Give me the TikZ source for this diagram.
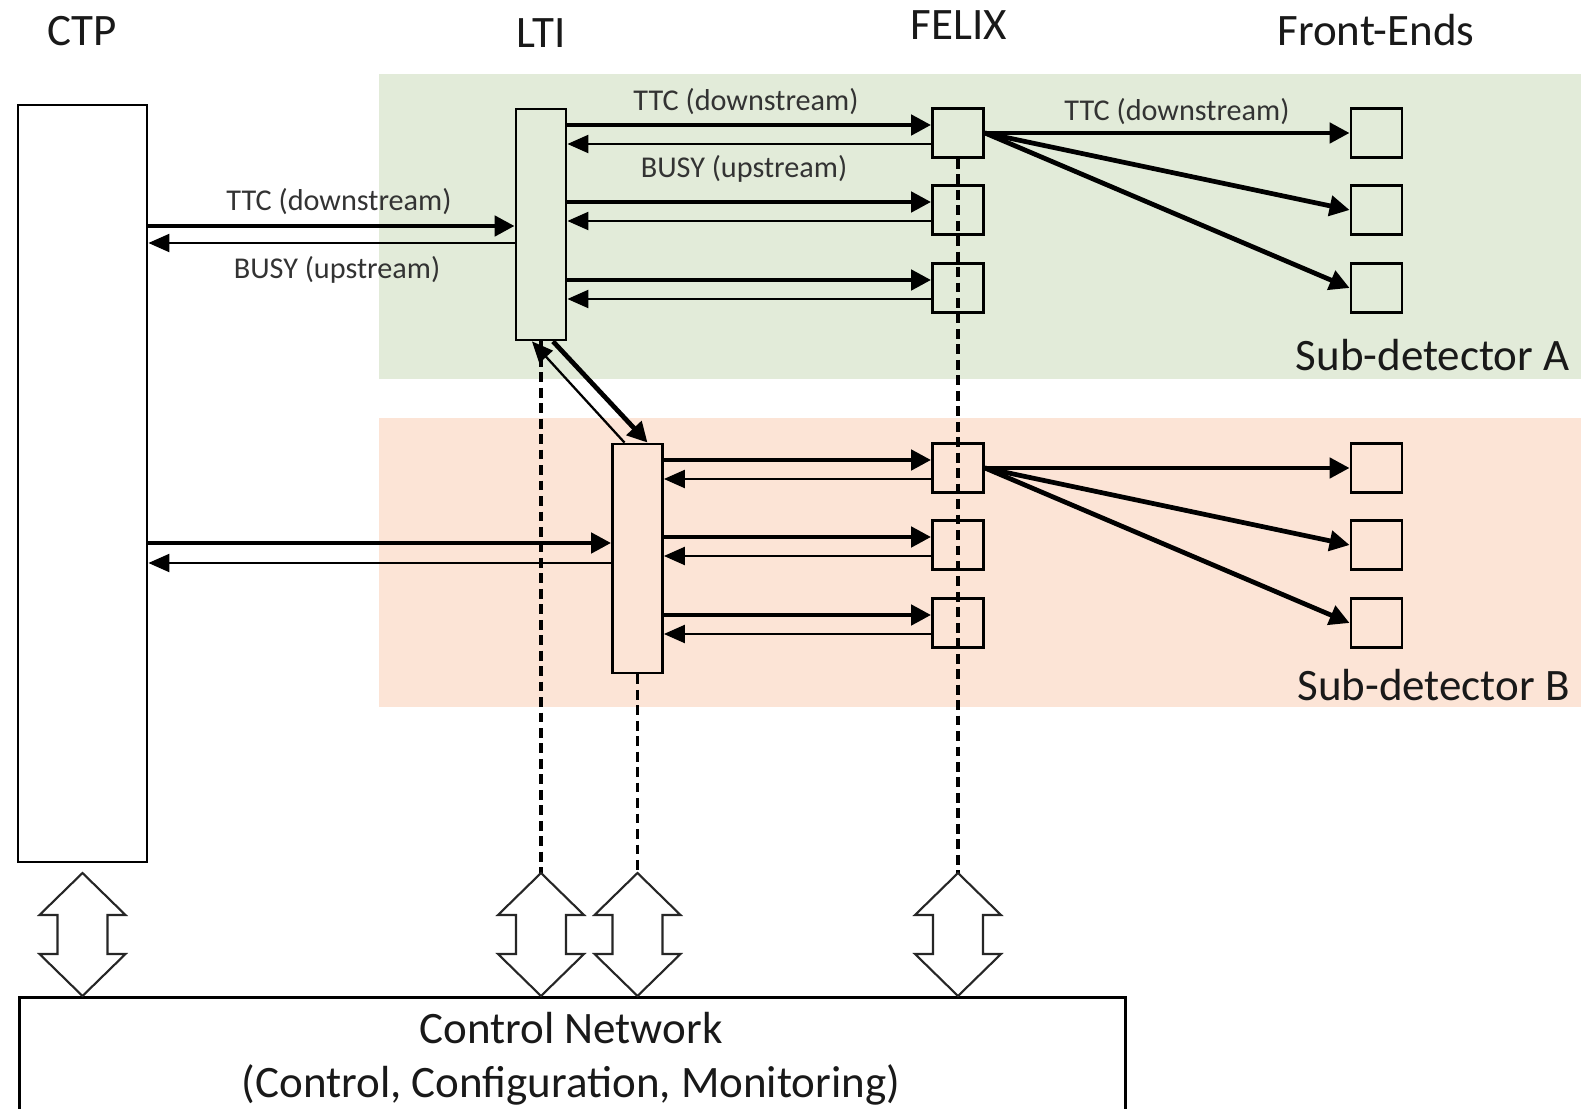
\documentclass[tikz,border=0pt]{standalone}
\usepackage{fontspec}
\setmainfont{Carlito}
\usetikzlibrary{arrows.meta,calc}
\definecolor{subAbg}{RGB}{226,235,217}
\definecolor{subBbg}{RGB}{252,228,214}

\begin{document}
\begin{tikzpicture}[y=-1cm,
  box/.style={draw, line width=0.8pt, inner sep=0pt},
  sbox/.style={box, minimum width=0.51cm, minimum height=0.49cm},
  dn/.style={-{Triangle[length=2mm,width=2mm]}, line width=1.35pt},
  up/.style={-{Triangle[length=2.1mm,width=1.8mm]}, line width=0.65pt},
  ctl/.style={line width=0.95pt, dash pattern=on 2.8pt off 1.6pt},
  blk/.style={draw=black!85, fill=white, line width=0.6pt, line join=miter},
  lbl/.style={font=\fontsize{8.6}{10}\selectfont, text=black!80},
  big/.style={font=\fontsize{12.8}{15.4}\selectfont, text=black!90}]
  \useasboundingbox (0,0) rectangle (15.81,11.09);

  % 两个子探测器区域
  \fill[subAbg] (3.79,0.74) rectangle (15.81,3.79);
  \fill[subBbg] (3.79,4.18) rectangle (15.81,7.07);

  % 列标题
  \node[big] (tCTP) at (0.82,0.31) {CTP};
  \node[big] (tLTI) at (5.41,0.33) {LTI};
  \node[big] (tFX) at (9.59,0.25) {FELIX};
  \node[big] (tFE) at (13.76,0.30) {Front-Ends};

  % 方框
  \node[box, minimum width=1.29cm, minimum height=7.57cm] (ctp) at (0.825,4.835) {};
  \node[box, minimum width=0.50cm, minimum height=2.31cm] (ltiA) at (5.41,2.245) {};
  \node[box, minimum width=0.50cm, minimum height=2.29cm] (ltiB) at (6.375,5.585) {};
  \foreach \i/\y in {1/1.33, 2/2.10, 3/2.88} {
    \node[sbox] (fxA\i) at (9.58,\y) {};
    \node[sbox] (feA\i) at (13.765,\y) {};
  }
  \foreach \i/\y in {1/4.68, 2/5.45, 3/6.23} {
    \node[sbox] (fxB\i) at (9.58,\y) {};
    \node[sbox] (feB\i) at (13.765,\y) {};
  }
  \node[box, anchor=north west, minimum width=11.06cm, minimum height=1.20cm] (cn) at (0.18,9.96) {};
  \node[big, align=center] (cnText) at (5.71,10.59) {Control Network\\(Control, Configuration, Monitoring)};

  % 子探测器名称
  \node[big, anchor=east] (subA) at (15.82,3.55) {Sub-detector A};
  \node[big, anchor=east] (subB) at (15.82,6.85) {Sub-detector B};

  % CTP 与 LTI
  \draw[dn] ($(ctp.east |- ltiA)+(0,0.015)$) -- ($(ltiA.west)+(0,0.015)$);
  \draw[up] ($(ltiA.west)+(0,0.185)$) -- ($(ctp.east |- ltiA)+(0,0.185)$);
  \node[lbl] (ttc1) at (3.39,2.02) {TTC (downstream)};
  \node[lbl] (busy1) at (3.37,2.70) {BUSY (upstream)};
  \draw[dn] ($(ctp.east |- ltiB)+(0,-0.155)$) -- ($(ltiB.west)+(0,-0.155)$);
  \draw[up] ($(ltiB.west)+(0,0.045)$) -- ($(ctp.east |- ltiB)+(0,0.045)$);

  % LTI A 与 LTI B
  \draw[dn] ([xshift=0.12cm]ltiA.south) -- ([xshift=0.10cm]ltiB.north);
  \draw[up] ([xshift=-0.13cm]ltiB.north) -- ([xshift=-0.09cm]ltiA.south);

  % LTI 与 FELIX
  \foreach \s in {A,B} {
    \foreach \i in {1,2,3} {
      \coordinate (d\s\i) at ($(fx\s\i.west)+(0,-0.08)$);
      \coordinate (u\s\i) at ($(fx\s\i.west)+(0,0.11)$);
      \draw[dn] (lti\s.east |- d\s\i) -- (d\s\i);
      \draw[up] (u\s\i) -- (lti\s.east |- u\s\i);
    }
  }
  \node[lbl] (ttc2) at (7.46,1.02) {TTC (downstream)};
  \node[lbl] (busy2) at (7.44,1.69) {BUSY (upstream)};

  % FELIX 与前端
  \foreach \s in {A,B} {
    \foreach \i in {1,2,3}
      \draw[dn] (fx\s1.east) -- (fe\s\i.west);
  }
  \node[lbl] (ttc3) at (11.77,1.12) {TTC (downstream)};

  % 控制网络虚线与双向箭头
  \coordinate (ctop) at (0,8.73);
  \draw[ctl] (ltiA.south) -- (ltiA.south |- ctop);
  \draw[ctl] (ltiB.south) -- (ltiB.south |- ctop);
  \draw[ctl] (fxA1.south) -- (fxA1.south |- ctop);
  \foreach \n in {ctp, ltiA, ltiB, fxA1}
    \draw[blk] (\n |- ctop) -- ++(0.43,0.42) -- ++(-0.18,0) -- ++(0,0.39)
      -- ++(0.18,0) -- ++(-0.43,0.42) -- ++(-0.43,-0.42) -- ++(0.18,0)
      -- ++(0,-0.39) -- ++(-0.18,0) -- cycle;
\end{tikzpicture}
\end{document}
